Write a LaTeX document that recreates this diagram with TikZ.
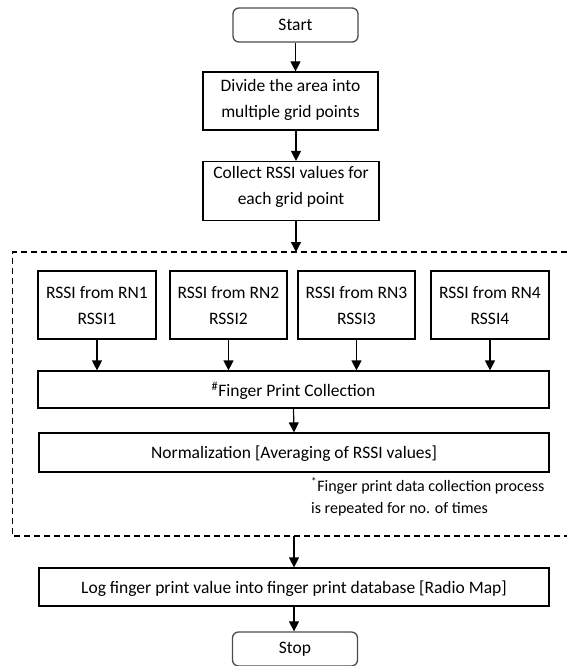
\documentclass[tikz,border=0pt]{standalone}
\usepackage{fontspec}
\setmainfont{Carlito}
\usetikzlibrary{arrows.meta}
\begin{document}
\begin{tikzpicture}[x=1pt,y=-1pt,
  every node/.style={font=\fontsize{17.5}{26}\selectfont, align=center, inner sep=0pt},
  procbox/.style={draw, line width=1.2pt, minimum width=#1, text depth=0pt},
  termbox/.style={draw=black!70, line width=1.3pt, rounded corners=6pt, minimum width=125pt, minimum height=34pt},
  flow/.style={line width=1.2pt, -{Triangle[length=10pt,width=10pt]}},
  groupline/.style={line width=1.1pt, dash pattern=on 6pt off 4pt}
]
\useasboundingbox (0,0) rectangle (567,666);

% terminals and single-column steps (extra text depth lifts the two lines)
\node[termbox] (start) at (295.5,25) {Start};
\node[procbox=175pt, minimum height=58pt, text depth=6pt] (divide) at (290.5,101) {Divide the area into\\multiple grid points};
\node[procbox=176pt, minimum height=59pt, text depth=11pt] (collect) at (291,191) {Collect RSSI values for\\each grid point};

% dashed group frame (open to the right)
\coordinate (gtop) at (296,252);
\draw[groupline] (567,252) -- (12.5,252) -- (12.5,536) -- (567,536);
\coordinate (gbot) at (294,536);

% readings from the reference nodes
\node[procbox=118pt, minimum height=68pt] (rn1) at (97,305) {RSSI from RN1\\RSSI1};
\node[procbox=117pt, minimum height=68pt] (rn2) at (228.5,305) {RSSI from RN2\\RSSI2};
\node[procbox=117pt, minimum height=68pt] (rn3) at (356.5,305) {RSSI from RN3\\RSSI3};
\node[procbox=118pt, minimum height=68pt] (rn4) at (490,305) {RSSI from RN4\\RSSI4};

\node[procbox=511pt, minimum height=37pt] (fp) at (293.5,389.5) {\textsuperscript{\#}Finger Print Collection};
\node[procbox=510pt, minimum height=39pt] (norm) at (294,452.5) {Normalization [Averaging of RSSI values]};

\node[font=\fontsize{16}{22}\selectfont, align=left, anchor=north west] (note) at (311,477)
  {\textsuperscript{*}Finger print data collection process\\is repeated for no. of times};

\node[procbox=510pt, minimum height=38pt] (log) at (294,587) {Log finger print value into finger print database [Radio Map]};
\node[termbox] (stop) at (295,649) {Stop};

% connectors
\draw[flow] (start.south) -- (start.south |- divide.north);
\draw[flow] (divide.south) ++(5.5,0) coordinate (d1) -- (d1 |- collect.north);
\draw[flow] (collect.south) ++(5,0) coordinate (c1) -- (c1 |- gtop);
\draw[flow] (rn1.south) -- (rn1.south |- fp.north);
\draw[flow] (rn2.south) -- (rn2.south |- fp.north);
\draw[flow] (rn3.south) -- (rn3.south |- fp.north);
\draw[flow] (rn4.south) -- (rn4.south |- fp.north);
\draw[flow] (fp.south) -- (norm.north);
\draw[flow] (gbot) -- (gbot |- log.north);
\draw[flow] (log.south) -- (log.south |- stop.north);
\end{tikzpicture}
\end{document}
